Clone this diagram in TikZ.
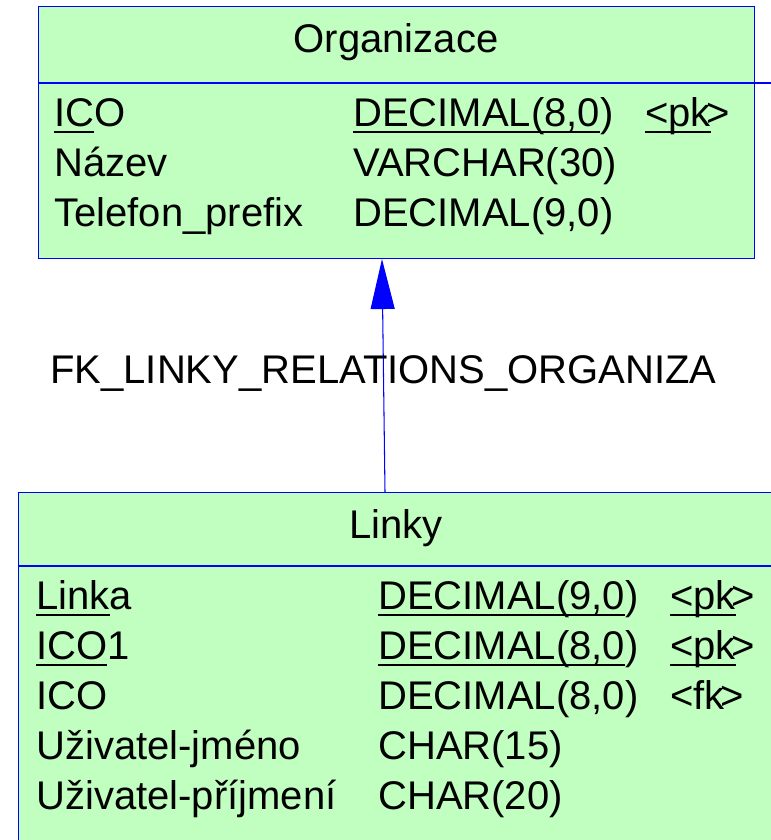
\documentclass[tikz,border=0pt]{standalone}
\usepackage{fontspec}
\setmainfont{Liberation Sans}
\usetikzlibrary{arrows.meta,calc}
\definecolor{erFill}{HTML}{C0FFC0}
\definecolor{erLine}{HTML}{0000FF}
\newcommand{\keyul}[1]{\setbox0\hbox{#1}\rlap{\rule[-0.13cm]{\wd0}{0.04cm}}\box0\relax}
\tikzset{
  table/.style={draw=erLine,line width=.6pt,fill=erFill,inner sep=0pt},
  divider/.style={draw=erLine,line width=.6pt},
  title/.style={anchor=base,font=\fontsize{22.76}{28}\selectfont,inner sep=0pt},
  attr/.style={anchor=base west,font=\fontsize{22.76}{28}\selectfont,inner sep=0pt},
  fklink/.style={-{Triangle[width=4.8mm,length=10mm]},draw=erLine,line width=.6pt},
}
\begin{document}
\begin{tikzpicture}[x=1cm,y=1cm]
  \useasboundingbox (0,0) rectangle (15.42,16.8);
  \clip (0,0) rectangle (15.42,16.8);
  % parent table
  \node[table,anchor=north west,minimum width=14.32cm,minimum height=5.04cm] (org) at (0.76,16.68) {};
  \draw[divider] ($(org.north west)+(0,-1.54)$) -- ++(14.66,0);
  \node[title] (orgtitle) at (7.92,15.74) {Organizace};
  \node[attr] (orgico) at (1.08,14.26) {\keyul{IC}O};
  \node[attr] (orgicotype) at (7.06,14.26) {\keyul{DECIMAL(8,0})};
  \node[attr] (orgicokey) at (12.9,14.26) {\keyul{<pk}\kern-.12em>};
  \node[attr] (orgnazev) at (1.08,13.26) {Název};
  \node[attr] (orgnazevtype) at (7.06,13.26) {VARCHAR(30)};
  \node[attr] (orgtel) at (1.08,12.26) {Telefon\_prefix};
  \node[attr] (orgteltype) at (7.06,12.26) {DECIMAL(9,0)};
  % child table
  \node[table,anchor=north west,minimum width=16cm,minimum height=7.6cm] (linky) at (0.36,6.96) {};
  \draw[divider] ($(linky.north west)+(0,-1.48)$) -- ++(16,0);
  \node[title] (linkytitle) at (7.92,6.02) {Linky};
  \node[attr] (linka) at (0.72,4.6) {\keyul{Link}a};
  \node[attr] (linkatype) at (7.56,4.6) {\keyul{DECIMAL(9,0})};
  \node[attr] (linkakey) at (13.4,4.6) {\keyul{<pk}\kern-.12em>};
  \node[attr] (icoa) at (0.72,3.6) {\keyul{ICO}1};
  \node[attr] (icoatype) at (7.56,3.6) {\keyul{DECIMAL(8,0})};
  \node[attr] (icoakey) at (13.4,3.6) {\keyul{<pk}\kern-.12em>};
  \node[attr] (icob) at (0.72,2.6) {ICO};
  \node[attr] (icobtype) at (7.56,2.6) {DECIMAL(8,0)};
  \node[attr] (icobkey) at (13.4,2.6) {<fk\kern-.12em>};
  \node[attr] (jmeno) at (0.72,1.6) {Uživatel-jméno};
  \node[attr] (jmenotype) at (7.56,1.6) {CHAR(15)};
  \node[attr] (prijmeni) at (0.72,0.6) {Uživatel-příjmení};
  \node[attr] (prijmenitype) at (7.56,0.6) {CHAR(20)};
  % reference
  \coordinate (fkfrom) at ($(linky.north west)+(7.34,0)$);
  \coordinate (fkto) at ($(org.south west)+(6.88,0)$);
  \draw[fklink] (fkfrom) -- (fkto);
  \node[attr] (fklabel) at (1.0,9.12) {FK\_LINKY\_RELATIONS\_ORGANIZA};
\end{tikzpicture}
\end{document}
